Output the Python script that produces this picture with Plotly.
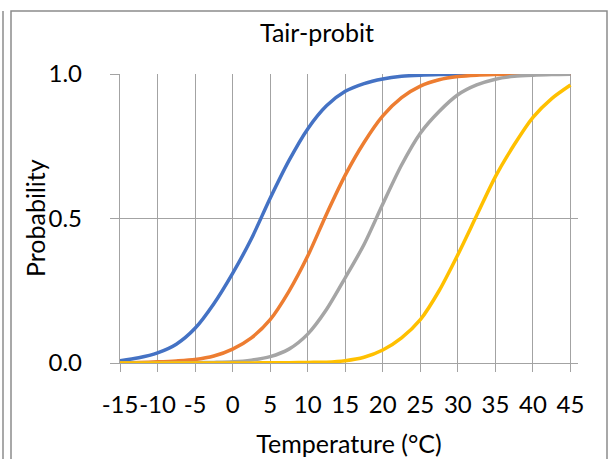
import plotly.graph_objects as go

# temperature steps (°C) and the four probit curves
temps = [-15, -12.5, -10, -7.5, -5, -2.5, 0, 2.5, 5, 7.5, 10, 12.5, 15,
         17.5, 20, 22.5, 25, 27.5, 30, 32.5, 35, 37.5, 40, 42.5, 45]

prob_blue = [0.008, 0.018, 0.035, 0.065, 0.12, 0.205, 0.31, 0.43, 0.57, 0.70,
             0.81, 0.89, 0.94, 0.967, 0.983, 0.992, 0.996, 0.998, 0.999, 1.0,
             1.0, 1.0, 1.0, 1.0, 1.0]
prob_orange = [0.001, 0.002, 0.004, 0.007, 0.012, 0.024, 0.048, 0.087, 0.15, 0.248,
               0.37, 0.515, 0.65, 0.763, 0.855, 0.918, 0.958, 0.98, 0.991, 0.996,
               0.998, 0.999, 1.0, 1.0, 1.0]
prob_gray = [0.0, 0.0, 0.0, 0.001, 0.001, 0.002, 0.004, 0.01, 0.022, 0.048,
             0.10, 0.185, 0.295, 0.41, 0.55, 0.685, 0.795, 0.87, 0.928, 0.962,
             0.982, 0.992, 0.996, 0.998, 0.999]
prob_yellow = [0.0, 0.0, 0.0, 0.0, 0.0, 0.0, 0.0, 0.0, 0.001, 0.001,
               0.002, 0.003, 0.008, 0.02, 0.045, 0.087, 0.15, 0.25, 0.375, 0.51,
               0.645, 0.755, 0.85, 0.915, 0.962]

x_ticks = [-15, -10, -5, 0, 5, 10, 15, 20, 25, 30, 35, 40, 45]
y_ticks = [0.0, 0.5, 1.0]

series = [
    ("Blue", prob_blue, "#4472C4"),
    ("Orange", prob_orange, "#ED7D31"),
    ("Gray", prob_gray, "#A5A5A5"),
    ("Yellow", prob_yellow, "#FFC000"),
]

fig = go.Figure()
for name, vals, col in series:
    fig.add_trace(go.Scatter(
        x=temps, y=vals, name=name, mode="lines",
        line=dict(color=col, width=3.5, shape="spline", smoothing=0.8),
        cliponaxis=False,
        hovertemplate="%{x} °C: %{y:.3f}<extra></extra>",
    ))

grid = "#A3A3A3"
W, H = 610, 459
L, R, T, B = 120, 32, 74, 96
pw, ph = W - L - R, H - T - B


def px(x):
    return (x - L) / pw


def py(y):
    return (H - B - y) / ph


# chart frame like the spreadsheet border
frame = [
    dict(type="rect", x0=px(11), x1=px(607), y0=py(11), y1=py(480)),
    dict(type="line", x0=px(3), x1=px(3), y0=py(11), y1=py(480)),
]
for s in frame:
    s.update(xref="paper", yref="paper", line=dict(color="#8C8C8C", width=1.5),
             layer="below")

font = "Lato, Calibri, 'Open Sans', sans-serif"

fig.update_layout(
    width=W, height=H,
    margin=dict(l=L, r=R, t=T, b=B),
    paper_bgcolor="white", plot_bgcolor="white",
    showlegend=False,
    font=dict(family=font, size=24, color="#000000"),
    title=dict(text="Tair-probit", x=(317 - L) / pw, xref="paper",
               xanchor="center", y=1 - 33 / H, yanchor="middle",
               font=dict(family=font, size=25)),
    shapes=frame,
)

# y-axis title placed by hand (closer to the tick labels than standoff allows)
fig.add_annotation(
    text="Probability", textangle=-90, showarrow=False,
    xref="paper", yref="paper", x=px(35), y=py(218),
    xanchor="center", yanchor="middle", font=dict(size=25),
)

fig.update_xaxes(
    range=[-15, 46], tickvals=x_ticks, ticktext=[str(v) for v in x_ticks],
    tickangle=0,
    showgrid=True, gridcolor=grid, gridwidth=1.3,
    zeroline=False, showline=True, linecolor=grid, linewidth=1.3,
    ticks="outside", ticklen=8, tickcolor=grid, tickwidth=1.3,
    ticklabelstandoff=12, automargin=False,
    title=dict(text="Temperature (°C)", standoff=18, font=dict(size=25)),
)
fig.update_yaxes(
    range=[0, 1], tickvals=y_ticks, tickformat=".1f",
    showgrid=True, gridcolor=grid, gridwidth=1.3,
    zeroline=False, showline=True, linecolor=grid, linewidth=1.3,
    ticks="outside", ticklen=9, tickcolor=grid, tickwidth=1.3,
    ticklabelstandoff=23, automargin=False,
)

# drop the default page margin so the figure sits at the window's corner
fig.write_html("out.html",
               config={"displayModeBar": False},
               post_script="document.body.style.margin='0';"
                           "document.body.style.overflow='hidden';")
